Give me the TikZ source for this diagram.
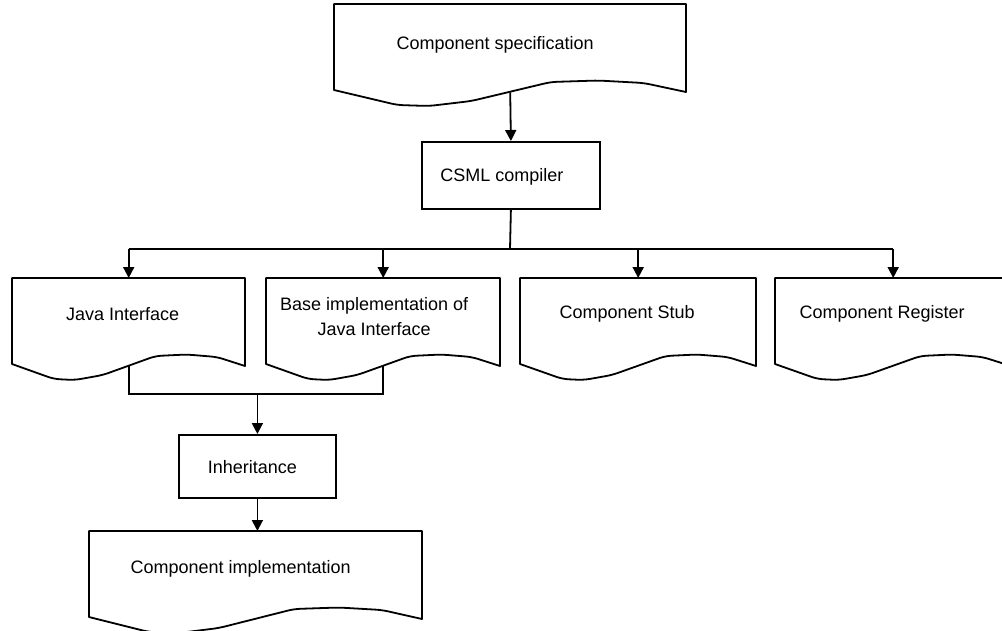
\documentclass[tikz,border=0pt]{standalone}
\usepackage{fontspec}
\setmainfont{Liberation Sans}
\usetikzlibrary{arrows.meta,calc}

\tikzset{
  outline/.style={line width=1.8pt, line join=round},
  frame/.style={draw=none, inner sep=0pt, minimum height=86pt, anchor=north west},
  lbl/.style={font=\fontsize{18}{25}\selectfont, inner sep=0pt, align=center},
  procbox/.style={draw, line width=1.8pt, inner sep=0pt, anchor=north west},
  link/.style={line width=1.8pt},
  arr/.style={link, -{Triangle[length=11pt,width=11pt]}},
}

% Document symbol: #1 name, #2 north-west corner, #3 width,
% #4 text, #5 text x-shift, #6 text y-shift
\newcommand\docshape[6]{%
  \node[frame, minimum width=#3] (#1) at (#2) {};
  \draw[outline, shift={(#1.north west)}, x=#3]
    (0,0) -- (0,86) [rounded corners=6pt] -- (0.18,101) -- (0.27,102) -- (0.39,97)
    -- (0.616,78) -- (0.75,76.5) -- (0.88,79) [sharp corners] -- (1,88) -- (1,0) -- cycle;
  \node[lbl, xshift=#5pt, yshift=#6pt] (#1-t) at (#1.center) {#4};
  \coordinate (#1-w) at ($(#1.south)+(0,2)$);
}

\begin{document}
\begin{tikzpicture}[x=1pt, y=-1pt]
  \clip (0,0) rectangle (1002,630);
  \fill[white] (0,0) rectangle (1002,630);

  % documents
  \docshape{spec}{334,4}{352pt}{Component specification}{-15}{2}
  \docshape{java}{12,278}{233pt}{Java Interface}{-6}{7}
  \docshape{base}{266,278}{234pt}{Base implementation of\\Java Interface}{-9}{5}
  \docshape{stub}{520,278}{236pt}{Component Stub}{-11}{7}
  \docshape{reg}{775,278}{236pt}{Component Register}{-11}{7}
  \docshape{impl}{89,531}{333pt}{Component implementation}{-15}{5}

  % process boxes
  \node[procbox, minimum width=178pt, minimum height=67pt] (csml) at (421,141) {};
  \node[lbl, xshift=-9pt, yshift=-1pt] (csml-t) at (csml.center) {CSML compiler};
  \node[procbox, minimum width=157pt, minimum height=63pt] (inh) at (178,434) {};
  \node[lbl, xshift=-5pt, yshift=-1pt] (inh-t) at (inh.center) {Inheritance};

  % junction points
  \coordinate (bus) at (510,249);
  \coordinate (merge) at (255,394);

  % connectors
  \draw[arr] (spec-w) -- (csml.north);
  \draw[link] (csml.south) -- (bus);
  \draw[link] (java.north |- bus) -- (reg.north |- bus);
  \draw[arr] (java.north |- bus) -- (java.north);
  \draw[arr] (base.north |- bus) -- (base.north);
  \draw[arr] (stub.north |- bus) -- (stub.north);
  \draw[arr] (reg.north |- bus) -- (reg.north);

  \draw[link] (java-w) -- (java-w |- merge) -- (base-w |- merge) -- (base-w);
  \draw[arr] (inh.north |- merge) -- (inh.north);
  \draw[arr] (inh.south) -- (inh.south |- impl.north);
\end{tikzpicture}
\end{document}
